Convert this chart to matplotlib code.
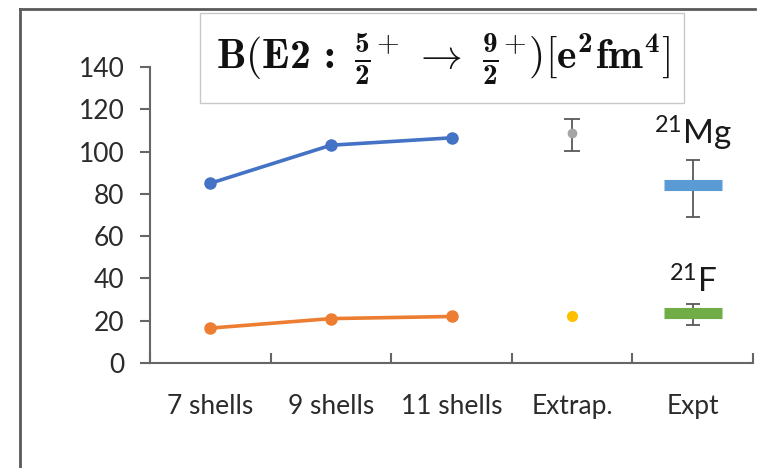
import matplotlib
matplotlib.use("Agg")
import matplotlib.pyplot as plt
from matplotlib.patches import Rectangle
from matplotlib.lines import Line2D

plt.rcParams['font.family'] = ['Lato', 'DejaVu Sans']
# Computer Modern faces for the math title (bold digits come from cmb10)
plt.rcParams['mathtext.fontset'] = 'custom'
plt.rcParams['mathtext.rm'] = 'cmr10'
plt.rcParams['mathtext.bf'] = 'cmb10'
plt.rcParams['mathtext.it'] = 'cmmi10'
plt.rcParams['mathtext.sf'] = 'cmss10'

# B(E2) values, e^2 fm^4
categories = ['7 shells', '9 shells', '11 shells', 'Extrap.', 'Expt']
shells_x = [0, 1, 2]
mg_calc = [85, 103, 106.5]
f_calc = [16.5, 21, 22]
mg_extrap = 109
mg_extrap_err = [[8.5], [6.5]]
f_extrap = 22
f_extrap_err = [[1], [1]]
mg_expt = 84
mg_expt_err = [[15], [12]]
f_expt = 23.5
f_expt_err = [[5.5], [4.5]]
yticks = [0, 20, 40, 60, 80, 100, 120, 140]

axis_col = '#666666'
err_col = '#595959'
label_col = '#2b2b2b'

fig = plt.figure(figsize=(7.65, 4.68), dpi=100)
ax = fig.add_axes([150 / 765, 1 - 363 / 468, 603 / 765, 296 / 468])

ax.plot(shells_x, mg_calc, color='#4472C4', lw=2.6, marker='o', ms=8, zorder=3)
ax.plot(shells_x, f_calc, color='#ED7D31', lw=2.6, marker='o', ms=8, zorder=3)

# extrapolated values
ax.errorbar(3, mg_extrap, yerr=mg_extrap_err, fmt='o', color='#A5A5A5', ms=6,
            ecolor=err_col, elinewidth=1.3, capsize=6, capthick=1.3)
ax.errorbar(3, f_extrap, yerr=f_extrap_err, fmt='o', color='#FFC000', ms=7,
            ecolor=err_col, elinewidth=1.3, capsize=3, capthick=1.3)

# experiment: thick bar plus error bar
ax.errorbar(4, mg_expt, yerr=mg_expt_err, fmt='none', ecolor=err_col,
            elinewidth=1.3, capsize=5, capthick=1.3, zorder=2)
ax.plot(4, mg_expt, marker='_', ms=42, mew=8, color='#5B9BD5', zorder=3)
ax.errorbar(4, f_expt, yerr=f_expt_err, fmt='none', ecolor=err_col,
            elinewidth=1.3, capsize=5, capthick=1.3, zorder=2)
ax.plot(4, f_expt, marker='_', ms=42, mew=8, color='#70AD47', zorder=3)

ax.text(4, 103, r'$\mathregular{^{21}}$Mg', ha='center', va='baseline',
        fontsize=24, color='#1a1a1a')
ax.text(4, 33, r'$\mathregular{^{21}}$F', ha='center', va='baseline',
        fontsize=24, color='#1a1a1a')

ax.set_xlim(-0.5, 4.5)
ax.set_ylim(0, 140)
ax.set_yticks(yticks)
ax.tick_params(axis='y', direction='out', length=7.5, width=1.5, color=axis_col,
               labelsize=19, labelcolor=label_col, pad=11)

# category boundaries as ticks, names centred between them
ax.set_xticks([i - 0.5 for i in range(len(categories) + 1)])
ax.set_xticklabels([])
ax.set_xticks(range(len(categories)), minor=True)
ax.set_xticklabels(categories, minor=True)
ax.tick_params(axis='x', which='major', direction='in', length=7.5, width=1.5,
               color=axis_col)
ax.tick_params(axis='x', which='minor', length=0, labelsize=19,
               labelcolor=label_col, pad=22)

for s in ['top', 'right']:
    ax.spines[s].set_visible(False)
for s in ['left', 'bottom']:
    ax.spines[s].set_color(axis_col)
    ax.spines[s].set_linewidth(1.5)

title = (r'$\mathbf{B}(\mathbf{E2}\,\mathbf{:}\ '
         r'\frac{\mathbf{5}}{\mathbf{2}}^{+}\ \rightarrow\ '
         r'\frac{\mathbf{9}}{\mathbf{2}}^{+})'
         r'[\mathbf{e}^{\mathbf{2}}\mathbf{fm}^{\mathbf{4}}]$')
fig.text(443 / 765, 1 - 59 / 468, title, ha='center', va='center', fontsize=30,
         color='#111111')
fig.patches.append(Rectangle((200 / 765, 1 - 103 / 468), 484 / 765, 90 / 468,
                             transform=fig.transFigure, fill=False,
                             ec='#c8c8c8', lw=1))

# outer frame, left and top edges
fig.lines.append(Line2D([20 / 765, 20 / 765], [0, 1 - 9 / 468],
                        transform=fig.transFigure, color='#5a5a5a', lw=2))
fig.lines.append(Line2D([20 / 765, 755 / 765], [1 - 9 / 468, 1 - 9 / 468],
                        transform=fig.transFigure, color='#5a5a5a', lw=2))

fig.savefig('out.png', dpi=100)
